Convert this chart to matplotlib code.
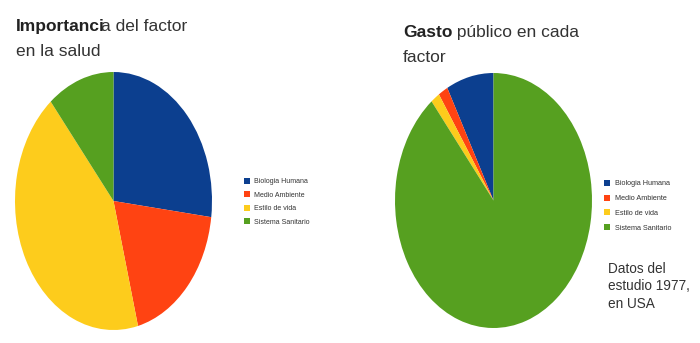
import matplotlib
matplotlib.use("Agg")
import matplotlib.pyplot as plt
from matplotlib.patches import Patch

plt.rcParams['font.family'] = ['Liberation Sans', 'DejaVu Sans']

# datos
categorias = ['Biologia Humana', 'Medio Ambiente', 'Estilo de vida', 'Sistema Sanitario']
importancia = [27, 19, 43, 11]
gasto = [7.9, 1.6, 1.5, 90.6]
colores = ['#0c3f8f', '#ff4312', '#fdcc1c', '#56a020']

W, H = 700, 343
fig = plt.figure(figsize=(7, 3.43), dpi=100)


def px_axes(x0, y0, x1, y1):
    # rectangulo en pixeles (origen arriba-izquierda) -> coords de figura
    return fig.add_axes([x0 / W, 1 - y1 / H, (x1 - x0) / W, (y1 - y0) / H])


def titulo_mixto(x, y, negrita, normal, size=12.5, ajuste=0):
    t = fig.text(x / W, 1 - y / H, negrita, fontsize=size, fontweight='bold',
                 color='#222222', va='baseline')
    bb = t.get_window_extent(renderer=fig.canvas.get_renderer())
    fig.text((bb.x1 + ajuste) / W, 1 - y / H, normal, fontsize=size,
             color='#333333', va='baseline')


# grafico izquierdo
ax1 = px_axes(15, 72, 212, 330)
ax1.pie(importancia, colors=colores, startangle=90, counterclock=False,
        wedgeprops=dict(linewidth=0))
ax1.set_aspect('auto')
ax1.set_xlim(-1, 1)
ax1.set_ylim(-1, 1)

# grafico derecho
ax2 = px_axes(395, 73, 592, 328)
ax2.pie(gasto, colors=colores, startangle=90, counterclock=True,
        wedgeprops=dict(linewidth=0))
ax2.set_aspect('auto')
ax2.set_xlim(-1, 1)
ax2.set_ylim(-1, 1)

# titulos
titulo_mixto(16, 31, 'Importanci', 'a del factor', ajuste=-4)
fig.text(16 / W, 1 - 56 / H, 'en la salud', fontsize=12.5, color='#333333', va='baseline')
titulo_mixto(403, 37, 'Gasto', ' público en cada')
fig.text(403 / W, 1 - 62 / H, 'factor', fontsize=12.5, color='#333333', va='baseline')

# leyendas
handles = [Patch(facecolor=c, edgecolor='none') for c in colores]
fig.legend(handles, categorias, loc='upper left', bbox_to_anchor=(241 / W, 1 - 175 / H),
           frameon=False, fontsize=5, handlelength=0.9, handleheight=0.9,
           handletextpad=0.6, labelspacing=0.9, borderaxespad=0, labelcolor='#333333')
fig.legend(handles, categorias, loc='upper left', bbox_to_anchor=(601 / W, 1 - 177 / H),
           frameon=False, fontsize=5.2, handlelength=0.9, handleheight=0.9,
           handletextpad=0.6, labelspacing=1.0, borderaxespad=0, labelcolor='#333333')

fig.text(608 / W, 1 - 262 / H, 'Datos del\nestudio 1977,\nen USA', fontsize=9.8,
         color='#333333', va='top', linespacing=1.3)

fig.savefig('out.png', dpi=100)
